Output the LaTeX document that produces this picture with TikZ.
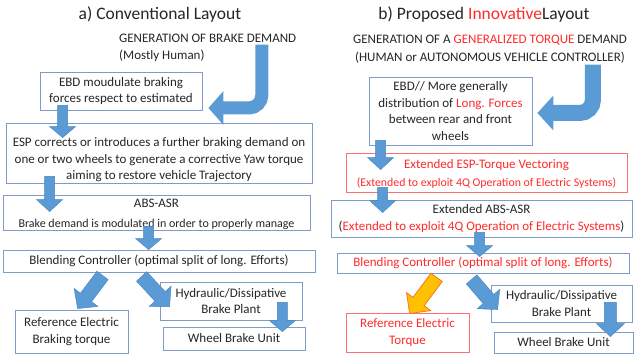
\documentclass[tikz,border=0pt]{standalone}
\usepackage{fontspec}
\setmainfont{Carlito}
\usetikzlibrary{calc,arrows.meta}
\definecolor{boxblue}{HTML}{7F9CC9}
\definecolor{arrblue}{HTML}{5B9BD5}
\definecolor{arredge}{HTML}{4A84BC}
\definecolor{myred}{HTML}{FF2B2B}
\definecolor{redbox}{HTML}{FF7070}
\definecolor{yellowarr}{HTML}{FFC000}
\definecolor{orangeedge}{HTML}{F07A2A}
\definecolor{txt}{HTML}{262626}
\newcommand\blkarrow[6][]{%
  \coordinate (bah) at ($(#3)!#6!(#2)$);
  \filldraw[barrow,#1] ($(#2)!#4!90:(#3)$) -- ($(bah)!#4!90:(#3)$) -- ($(bah)!#5!90:(#3)$) -- (#3) -- ($(bah)!#5!-90:(#3)$) -- ($(bah)!#4!-90:(#3)$) -- ($(#2)!#4!-90:(#3)$) -- cycle;}
\begin{document}
\begin{tikzpicture}[x=1pt,y=-1pt,
  box/.style={draw=boxblue, line width=0.8pt, fill=white, align=center, inner sep=0pt, text=txt, font=\fontsize{13}{16.5}\selectfont},
  redbox/.style={box, draw=redbox, text=myred},
  barrow/.style={fill=arrblue, draw=arredge, line width=0.4pt},
  yarrow/.style={fill=yellowarr, draw=orangeedge, line width=0.8pt},
  curvearrow/.style={draw=arrblue, line cap=butt, rounded corners=13pt},
  plain/.style={text=txt, inner sep=0pt}]
\useasboundingbox (0,0) rectangle (634,358);
\fill[white] (0,0) rectangle (634,358);
% titles
\node[plain, font=\fontsize{17.5}{20}\selectfont] (t1) at (160,15) {a) Conventional Layout};
\node[plain, font=\fontsize{17.5}{20}\selectfont] (t2) at (484,15) {b) Proposed \textcolor{myred}{Innovative}Layout};
\node[plain, anchor=west, align=left, font=\fontsize{13}{17}\selectfont] (gen1) at (119,48) {GENERATION OF BRAKE DEMAND\\(Mostly Human)};
\node[plain, align=center, font=\fontsize{13}{18}\selectfont] (gen2) at (490,49) {GENERATION OF A \textcolor{myred}{GENERALIZED TORQUE} DEMAND\\(HUMAN or AUTONOMOUS VEHICLE CONTROLLER)};
% left boxes
\node[box, minimum width=162pt, minimum height=38pt] (ebd) at (121,91) {EBD moudulate braking\\forces respect to estimated};
\node[box, minimum width=306pt, minimum height=60pt] (esp) at (159,153) {\rule{0pt}{23pt}ESP corrects or introduces a further braking demand on\\one or two wheels to generate a corrective Yaw torque\\aiming to restore vehicle Trajectory};
\node[box, minimum width=307pt, minimum height=35pt] (abs) at (156.5,212.5) {\rule{0pt}{12pt}ABS-ASR\\[3pt]{\fontsize{12}{14}\selectfont Brake demand is modulated in order to properly manage}};
\node[box, minimum width=312pt, minimum height=22pt] (blend) at (159,261) {Blending Controller (optimal split of long. Efforts)};
\node[box, minimum width=142pt, minimum height=38pt] (hyd) at (231,301) {Hydraulic/Dissipative\\Brake Plant};
\node[box, minimum width=142pt, minimum height=23pt] (wheel) at (234,338.5) {Wheel Brake Unit};
\node[box, minimum width=113pt, minimum height=43pt] (ref) at (71.5,331.5) {Reference Electric\\Braking torque};
% right boxes
\node[box, minimum width=163pt, minimum height=68pt] (ebd2) at (450.5,111) {EBD// More generally\\distribution of \textcolor{myred}{Long. Forces}\\between rear and front\\wheels};
\node[redbox, minimum width=281pt, minimum height=39pt] (esp2) at (486.5,172.5) {\rule{0pt}{12pt}Extended ESP-Torque Vectoring\\[1pt]{\fontsize{11.8}{14}\selectfont (Extended to exploit 4Q Operation of Electric Systems)}};
\node[box, minimum width=301pt, minimum height=37pt] (abs2) at (481.5,218.5) {Extended ABS-ASR\\(\textcolor{myred}{Extended to exploit 4Q Operation of Electric Systems})};
\node[redbox, draw=boxblue, minimum width=292pt, minimum height=20pt] (blend2) at (483,263) {Blending Controller (optimal split of long. Efforts)};
\node[box, minimum width=141pt, minimum height=37pt] (hyd2) at (561.5,303.5) {Hydraulic/Dissipative\\Brake Plant};
\node[box, minimum width=139pt, minimum height=21pt] (wheel2) at (563.5,342.5) {Wheel Brake Unit};
\node[redbox, minimum width=123pt, minimum height=39pt] (ref2) at (407.5,332.5) {Reference Electric\\Torque};
% connector end points
\coordinate (a1s) at ($(ebd.south west)+(23,-5)$);
\coordinate (a1e) at ($(esp.north west)+(57,15)$);
\coordinate (a2s) at ($(esp.south west)+(44,-7)$);
\coordinate (a2e) at ($(abs.north west)+(47,17)$);
\coordinate (a3s) at ($(abs.south west)+(146,-4)$);
\coordinate (a3e) at ($(blend.north west)+(146,0)$);
\coordinate (a4s) at ($(blend.south west)+(100,3)$);
\coordinate (a4e) at ($(ref.north west)+(63,-1)$);
\coordinate (a5s) at ($(blend.south west)+(139,4)$);
\coordinate (a5e) at ($(hyd.north west)+(10,25)$);
\coordinate (a6s) at ($(hyd.south east)+(-20,-18)$);
\coordinate (a6e) at ($(wheel.north east)+(-23,5)$);
\coordinate (c1s) at ($(ebd.north east)+(59.5,-27)$);
\coordinate (c1e) at ($(ebd.east)+(6,17)$);
\coordinate (b1s) at ($(ebd2.south west)+(12,-5)$);
\coordinate (b1e) at ($(esp2.north west)+(35,17)$);
\coordinate (b2s) at ($(esp2.south west)+(37,-5)$);
\coordinate (b2e) at ($(abs2.north west)+(52,13)$);
\coordinate (b3s) at ($(abs2.south west)+(149,-5)$);
\coordinate (b3e) at ($(blend2.north west)+(143,4)$);
\coordinate (o1s) at ($(blend2.south west)+(100,4)$);
\coordinate (o1e) at ($(ref2.north west)+(64,1)$);
\coordinate (b4s) at ($(blend2.south west)+(135,6)$);
\coordinate (b4e) at ($(hyd2.north west)+(7,25)$);
\coordinate (b5s) at ($(hyd2.south east)+(-22,-20)$);
\coordinate (b5e) at ($(wheel2.north east)+(-23,5)$);
\coordinate (c2s) at ($(ebd2.north east)+(60.5,-12)$);
\coordinate (c2e) at ($(ebd2.east)+(5,2)$);
% straight block arrows
\blkarrow{a1s}{a1e}{5pt}{13pt}{11pt}
\blkarrow{a2s}{a2e}{5pt}{13pt}{12pt}
\blkarrow{a3s}{a3e}{5pt}{13pt}{11pt}
\blkarrow{a4s}{a4e}{7pt}{15pt}{14pt}
\blkarrow{a5s}{a5e}{7pt}{15pt}{14pt}
\blkarrow{a6s}{a6e}{5pt}{13pt}{11pt}
\blkarrow{b1s}{b1e}{5pt}{13pt}{12pt}
\blkarrow{b2s}{b2e}{5pt}{13pt}{12pt}
\blkarrow{b3s}{b3e}{5pt}{13pt}{11pt}
\blkarrow[yarrow]{o1s}{o1e}{7pt}{15pt}{15pt}
\blkarrow{b4s}{b4e}{7pt}{15pt}{14pt}
\blkarrow{b5s}{b5e}{6pt}{14pt}{13pt}
% curved arrows
\draw[curvearrow, line width=13pt, -{Triangle[width=33pt,length=15pt]}] (c1s) |- (c1e);
\draw[curvearrow, line width=16pt, -{Triangle[width=34pt,length=16pt]}] (c2s) |- (c2e);
\end{tikzpicture}
\end{document}
